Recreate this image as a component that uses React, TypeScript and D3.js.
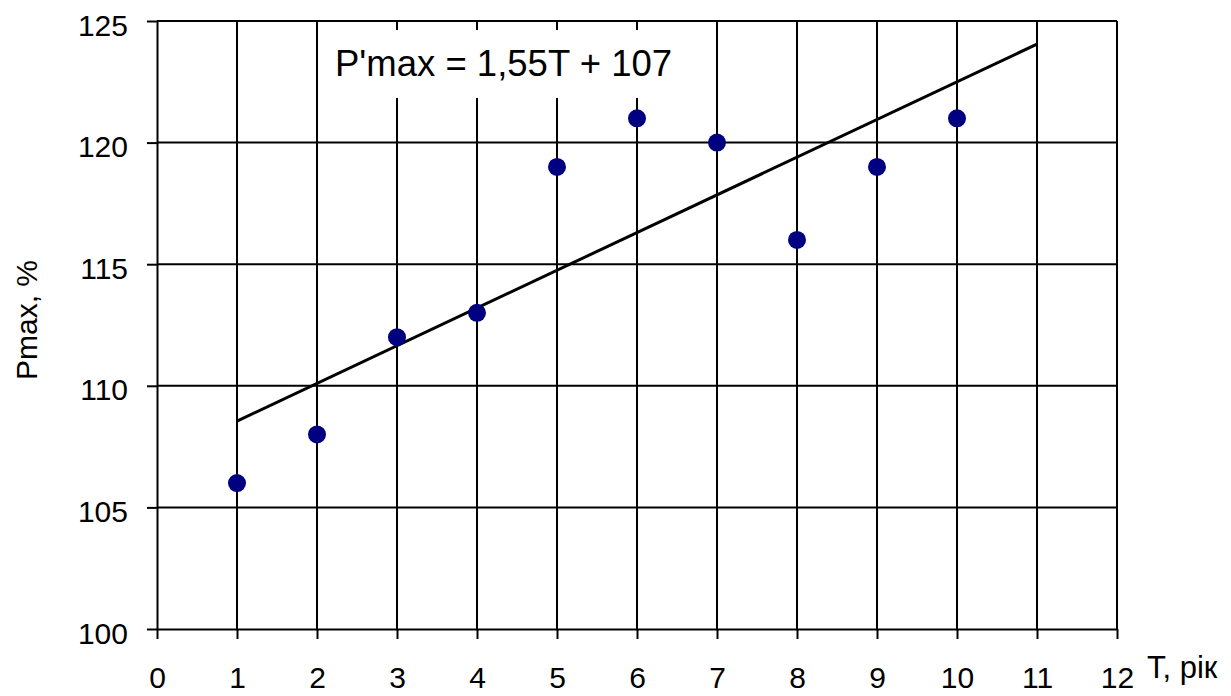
import React, { useEffect, useRef } from 'react';
import * as d3 from 'd3';

const years = [1, 2, 3, 4, 5, 6, 7, 8, 9, 10];
const pmax = [106, 108, 112, 113, 119, 121, 120, 116, 119, 121];
const trendT = [1, 11];
const trendP = [108.55, 124.05];
const xTicks = [0, 1, 2, 3, 4, 5, 6, 7, 8, 9, 10, 11, 12];
const yTicks = [100, 105, 110, 115, 120, 125];
const equation = "P'max = 1,55T + 107";
const xTitle = 'T, рік';
const yTitle = 'Pmax, %';

const App = () => {
  const svgRef = useRef<SVGSVGElement>(null);

  useEffect(() => {
    const width = 1231;
    const height = 696;
    const font = '"Liberation Sans", Arial, sans-serif';

    d3.select(svgRef.current).selectAll('*').remove();
    const svg = d3.select(svgRef.current)
      .attr('width', width)
      .attr('height', height)
      .style('font-family', font);

    const x = d3.scaleLinear().domain([0, 12]).range([157, 1117]);
    const y = d3.scaleLinear().domain([100, 125]).range([629, 21]);

    // grid
    svg.append('g')
      .selectAll('line')
      .data(xTicks.slice(1))
      .join('line')
      .attr('x1', d => x(d)).attr('x2', d => x(d))
      .attr('y1', y(125)).attr('y2', y(100))
      .attr('stroke', '#000').attr('stroke-width', 2);
    svg.append('g')
      .selectAll('line')
      .data(yTicks.slice(1))
      .join('line')
      .attr('x1', x(0)).attr('x2', x(12))
      .attr('y1', d => y(d)).attr('y2', d => y(d))
      .attr('stroke', '#000').attr('stroke-width', 2);

    // axes
    const xAxis = svg.append('g')
      .attr('transform', `translate(0,${y(100)})`)
      .call(d3.axisBottom(x).tickValues(xTicks).tickSize(10).tickSizeOuter(0).tickPadding(0));
    xAxis.select('.domain').attr('stroke', '#000').attr('stroke-width', 2);
    xAxis.selectAll('.tick line').attr('stroke', '#000').attr('stroke-width', 2);
    xAxis.selectAll('.tick text')
      .attr('y', 59).attr('dy', null)
      .attr('font-size', 30).attr('font-family', font).attr('fill', '#000');

    const yAxis = svg.append('g')
      .attr('transform', `translate(${x(0)},0)`)
      .call(d3.axisLeft(y).tickValues(yTicks).tickSize(10).tickSizeOuter(0));
    yAxis.select('.domain').attr('stroke', '#000').attr('stroke-width', 2);
    yAxis.selectAll('.tick line').attr('stroke', '#000').attr('stroke-width', 2);
    yAxis.selectAll('.tick text')
      .attr('x', -29).attr('dy', 14)
      .attr('font-size', 30).attr('font-family', font).attr('fill', '#000');

    // equation label with white box
    svg.append('rect')
      .attr('x', 330).attr('y', 30)
      .attr('width', 368).attr('height', 68)
      .attr('fill', '#fff');
    svg.append('text')
      .attr('x', 335).attr('y', 76)
      .attr('font-size', 36.5)
      .text(equation);

    // trend line
    svg.append('path')
      .datum(trendT.map((t, i) => [t, trendP[i]] as [number, number]))
      .attr('fill', 'none')
      .attr('stroke', '#000')
      .attr('stroke-width', 3)
      .attr('d', d3.line().x(d => x(d[0])).y(d => y(d[1])));

    // points
    svg.append('g')
      .selectAll('circle')
      .data(years)
      .join('circle')
      .attr('cx', d => x(d))
      .attr('cy', (d, i) => y(pmax[i]))
      .attr('r', 9)
      .attr('fill', '#000080');

    // titles
    svg.append('text')
      .attr('x', 1147).attr('y', 678)
      .attr('font-size', 31)
      .text(xTitle);
    svg.append('text')
      .attr('transform', 'translate(37,320) rotate(-90)')
      .attr('text-anchor', 'middle')
      .attr('font-size', 30)
      .text(yTitle);
  }, []);

  return (
    <svg ref={svgRef} style={{ position: 'absolute', left: 0, top: 0, background: '#fff' }}></svg>
  );
};

export default App;
